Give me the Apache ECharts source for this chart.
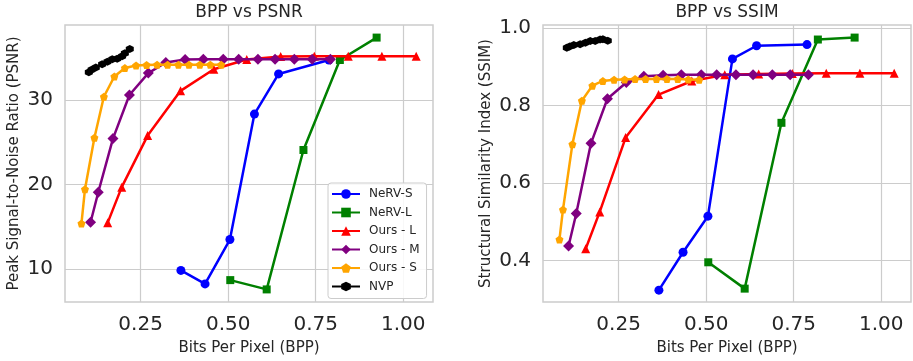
<!DOCTYPE html>
<html>
<head>
<meta charset="utf-8">
<script src="https://cdn.jsdelivr.net/npm/echarts@6/dist/echarts.min.js"></script>
<style>
html,body{margin:0;padding:0;background:#fff;}
#chart{width:913px;height:361px;}
</style>
</head>
<body>
<div id="chart"></div>
<script>
// ---- Data ----
const seriesNames = ['NeRV-S', 'NeRV-L', 'Ours - L', 'Ours - M', 'Ours - S', 'NVP'];

const nervS_bpp  = [0.365, 0.434, 0.505, 0.575, 0.644, 0.788];
const nervS_psnr = [9.85, 8.25, 13.5, 28.35, 33.1, 34.75];
const nervS_ssim = [0.323, 0.421, 0.514, 0.920, 0.954, 0.957];

const nervL_bpp  = [0.506, 0.610, 0.715, 0.819, 0.924];
const nervL_psnr = [8.7, 7.6, 24.1, 34.75, 37.4];
const nervL_ssim = [0.395, 0.327, 0.755, 0.970, 0.975];

const oursL_bpp  = [0.156, 0.196, 0.270, 0.364, 0.459, 0.553, 0.650, 0.746, 0.843, 0.939, 1.037];
const oursL_psnr = [15.5, 19.7, 25.8, 31.1, 33.65, 34.8, 35.15, 35.2, 35.2, 35.2, 35.2];
const oursL_ssim = [0.430, 0.525, 0.717, 0.828, 0.863, 0.879, 0.881, 0.882, 0.883, 0.883, 0.883];

const oursM_bpp  = [0.107, 0.129, 0.171, 0.218, 0.272, 0.322, 0.377, 0.429, 0.486, 0.530, 0.585, 0.634, 0.689, 0.740, 0.792];
const oursM_psnr = [15.55, 19.1, 25.45, 30.6, 33.2, 34.45, 34.8, 34.85, 34.85, 34.85, 34.85, 34.85, 34.85, 34.85, 34.85];
const oursM_ssim = [0.437, 0.521, 0.702, 0.817, 0.859, 0.875, 0.878, 0.879, 0.879, 0.879, 0.879, 0.879, 0.879, 0.879, 0.879];

const oursS_bpp  = [0.081, 0.091, 0.118, 0.145, 0.175, 0.205, 0.237, 0.267, 0.297, 0.327, 0.358, 0.388, 0.419, 0.449, 0.480];
const oursS_psnr = [15.4, 19.45, 25.55, 30.4, 32.8, 33.8, 34.1, 34.15, 34.2, 34.2, 34.2, 34.2, 34.2, 34.2, 34.2];
const oursS_ssim = [0.454, 0.531, 0.700, 0.812, 0.851, 0.863, 0.866, 0.867, 0.868, 0.868, 0.868, 0.868, 0.868, 0.867, 0.866];

const nvp_bpp  = [0.102, 0.110, 0.122, 0.140, 0.155, 0.169, 0.183, 0.197, 0.205, 0.219];
const nvp_psnr = [33.3, 33.6, 33.85, 34.25, 34.55, 34.85, 34.9, 35.2, 35.55, 36.05];
const nvp_ssim = [0.949, 0.952, 0.956, 0.958, 0.962, 0.966, 0.966, 0.970, 0.971, 0.967];

const xTickValues    = [0.25, 0.50, 0.75, 1.00];
const psnrTickValues = [10, 20, 30];
const ssimTickValues = [0.4, 0.6, 0.8, 1.0];

// ---- Styling ----
const FONT = 'DejaVu Sans';
const TXT = '#262626';
const GRIDC = '#cccccc';
const pentagon = 'path://M0,-1L0.951,-0.309L0.588,0.809L-0.588,0.809L-0.951,-0.309Z';
const hexagon  = 'path://M0,-1L0.866,-0.5L0.866,0.5L0,1L-0.866,0.5L-0.866,-0.5Z';

const styles = [
  {color: '#0000ff', symbol: 'circle',   size: 9},
  {color: '#008000', symbol: 'rect',     size: 8},
  {color: '#ff0000', symbol: 'triangle', size: 9},
  {color: '#800080', symbol: 'diamond',  size: 11},
  {color: '#ffa500', symbol: pentagon,   size: 8},
  {color: '#000000', symbol: hexagon,    size: 8}
];
const bppList  = [nervS_bpp, nervL_bpp, oursL_bpp, oursM_bpp, oursS_bpp, nvp_bpp];
const psnrList = [nervS_psnr, nervL_psnr, oursL_psnr, oursM_psnr, oursS_psnr, nvp_psnr];
const ssimList = [nervS_ssim, nervL_ssim, oursL_ssim, oursM_ssim, oursS_ssim, nvp_ssim];

function zip(a, b) { return a.map((v, i) => [v, b[i]]); }

const series = [];
[0, 1].forEach(function (k) {
  seriesNames.forEach(function (name, i) {
    const st = styles[i];
    series.push({
      type: 'line',
      name: name,
      xAxisIndex: k,
      yAxisIndex: k,
      data: zip(bppList[i], k === 0 ? psnrList[i] : ssimList[i]),
      symbol: st.symbol,
      symbolSize: st.size,
      showSymbol: true,
      lineStyle: {color: st.color, width: 2.5},
      itemStyle: {color: st.color},
      z: 2 + i,
      silent: true,
      animation: false
    });
  });
});

function makeX(idx) {
  return {
    type: 'value', gridIndex: idx, min: 0.034, max: 1.085,
    name: 'Bits Per Pixel (BPP)', nameLocation: 'middle', nameGap: 39,
    nameTextStyle: {fontFamily: FONT, fontSize: 15, color: TXT},
    axisLine: {show: false}, axisTick: {show: false, customValues: xTickValues},
    axisLabel: {customValues: xTickValues, fontFamily: FONT, fontSize: 20, color: TXT, margin: 13,
                formatter: v => v.toFixed(2)},
    splitLine: {show: true, lineStyle: {color: GRIDC, width: 1.2}}
  };
}
function makeY(idx, name, min, max, ticks, dec, gap) {
  return {
    type: 'value', gridIndex: idx, min: min, max: max,
    name: name, nameLocation: 'middle', nameGap: gap,
    nameTextStyle: {fontFamily: FONT, fontSize: 15, color: TXT},
    axisLine: {show: false}, axisTick: {show: false, customValues: ticks},
    axisLabel: {customValues: ticks, fontFamily: FONT, fontSize: 20, color: TXT, margin: 12,
                formatter: v => v.toFixed(dec)},
    splitLine: {show: true, lineStyle: {color: GRIDC, width: 1.2}}
  };
}

const option = {
  backgroundColor: '#ffffff',
  animation: false,
  title: [
    {text: 'BPP vs PSNR', left: 249, top: 4, textAlign: 'center', padding: 0,
     textStyle: {fontFamily: FONT, fontSize: 17, fontWeight: 'normal', color: TXT}},
    {text: 'BPP vs SSIM', left: 727, top: 4, textAlign: 'center', padding: 0,
     textStyle: {fontFamily: FONT, fontSize: 17, fontWeight: 'normal', color: TXT}}
  ],
  grid: [
    {left: 65, top: 25, width: 368, height: 279, show: true, borderColor: GRIDC, borderWidth: 1.5, backgroundColor: 'transparent'},
    {left: 543, top: 25, width: 368, height: 279, show: true, borderColor: GRIDC, borderWidth: 1.5, backgroundColor: 'transparent'}
  ],
  xAxis: [makeX(0), makeX(1)],
  yAxis: [
    makeY(0, 'Peak Signal-to-Noise Ratio (PSNR)', 6.11, 38.89, psnrTickValues, 0, 43),
    makeY(1, 'Structural Similarity Index (SSIM)', 0.2925, 1.0075, ssimTickValues, 1, 49)
  ],
  legend: {
    data: seriesNames,
    orient: 'vertical',
    left: 328, top: 183,
    padding: [5, 7, 6, 3],
    itemWidth: 28, itemHeight: 12, itemGap: 6.5,
    backgroundColor: 'rgba(255,255,255,0.85)',
    borderColor: GRIDC, borderWidth: 1, borderRadius: 3,
    textStyle: {fontFamily: FONT, fontSize: 12, color: TXT, padding: [0, 0, 0, 4]},
    z: 20
  },
  series: series
};

const chart = echarts.init(document.getElementById('chart'), null, {renderer: 'canvas'});
chart.setOption(option);
</script>
</body>
</html>
